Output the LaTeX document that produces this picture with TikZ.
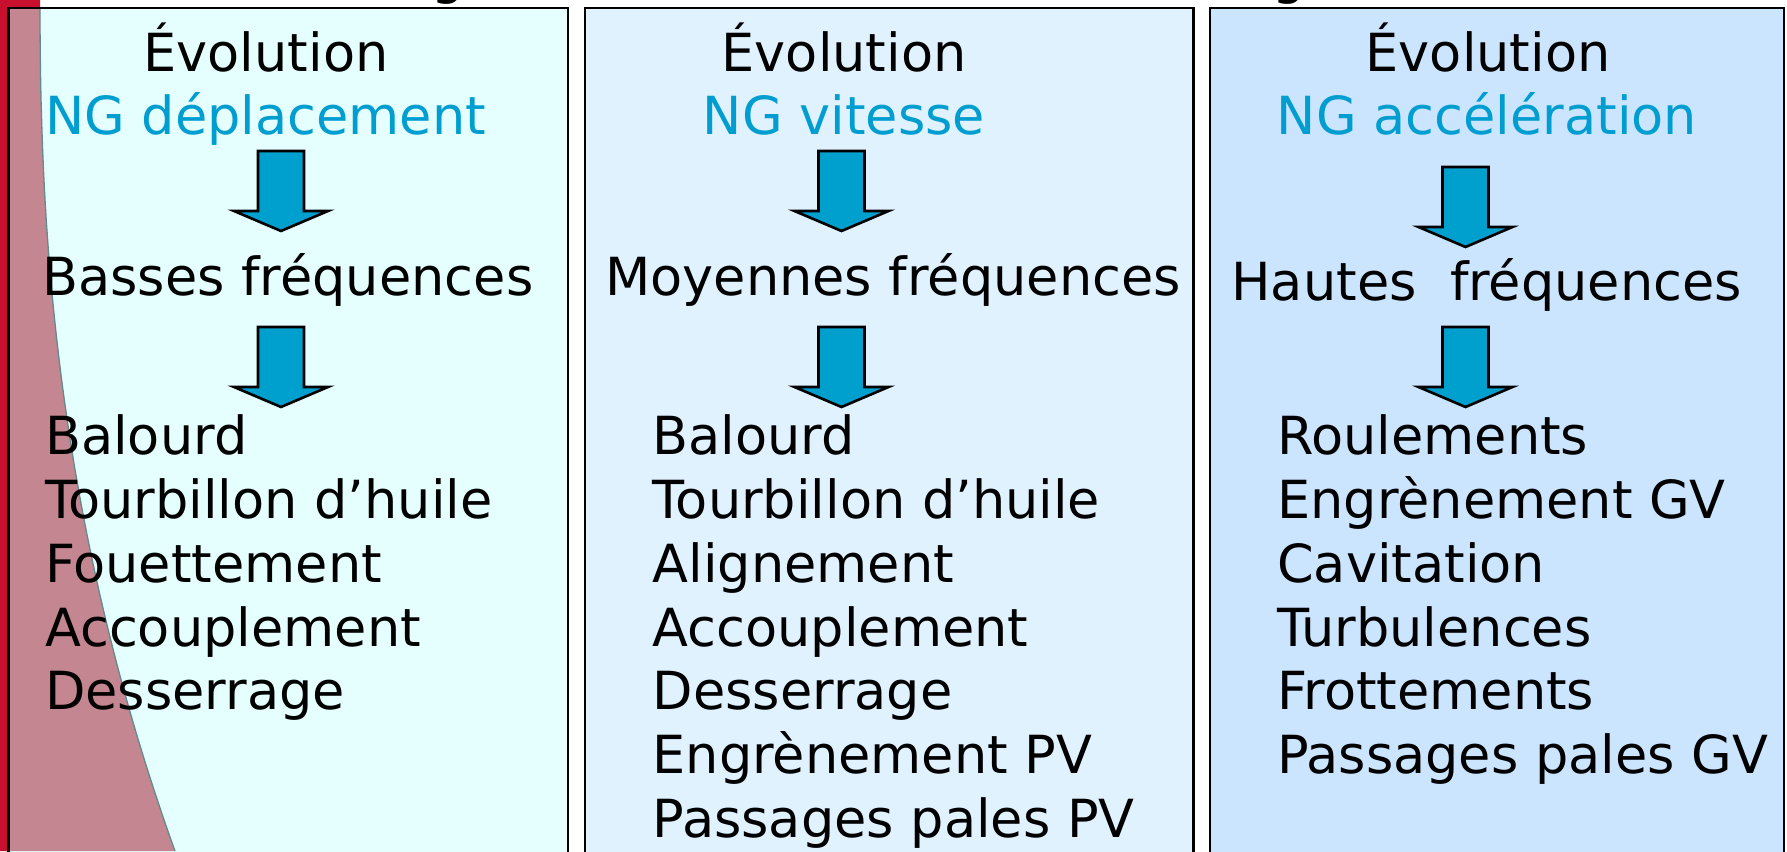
\documentclass[tikz,border=0pt]{standalone}
\usepackage{fontspec}
\setmainfont{DejaVu Sans}
\definecolor{bandA}{RGB}{229,255,255}
\definecolor{bandB}{RGB}{225,242,255}
\definecolor{bandC}{RGB}{204,229,255}
\definecolor{ngblue}{RGB}{0,158,208}
\definecolor{arrowblue}{RGB}{0,160,206}
\definecolor{crimson}{RGB}{200,16,46}
\definecolor{rosewash}{RGB}{196,134,144}
\definecolor{edgeline}{RGB}{95,140,140}
\begin{document}
\begin{tikzpicture}[x=1pt,y=-1pt,
  bigtext/.style={inner sep=0pt, font=\fontsize{52.5}{63.8}\selectfont},
  head/.style={bigtext, anchor=base},
  ng/.style={head, text=ngblue},
  item/.style={bigtext, anchor=base west},
  band/.style={draw=black, line width=2.8pt},
  arrowbody/.style={fill=arrowblue, draw=black, line width=2.6pt, line join=miter},
  downarrow/.pic={\draw[arrowbody] (-23,0) -- (23,0) -- (23,60) -- (47,60)
      -- (0,80) -- (-47,60) -- (-23,60) -- cycle;}
]
\useasboundingbox (0,0) rectangle (1787,851);
\begin{scope}
\clip (0,0) rectangle (1787,851);
\fill[white] (0,0) rectangle (1787,851);

% descenders of the line above, cut by the top edge
\node[head] (gA) at (448,-6) {g};
\node[head] (gB) at (1289,-6) {g};

% crimson wedge along the left edge
\fill[crimson] (0,0) -- plot[domain=0:851, samples=60, variable=\t] ({40+135*(\t/851)^2.27}, \t) -- (0,851) -- cycle;

% three bands
\fill[bandA] (8.5,8) rectangle (568,880);
\fill[bandB] (585,8) rectangle (1193.5,880);
\fill[bandC] (1210,8) rectangle (1784,880);

% wedge seen through the first band
\begin{scope}
\clip (8.5,8) rectangle (568,880);
\fill[rosewash] (0,0) -- plot[domain=0:851, samples=60, variable=\t] ({40+135*(\t/851)^2.27}, \t) -- (0,851) -- cycle;
\draw[edgeline, line width=1.3pt] plot[domain=0:851, samples=60, variable=\t] ({40+135*(\t/851)^2.27}, \t);
\end{scope}

\draw[band] (8.5,8) rectangle (568,880);
\draw[band] (585,8) rectangle (1193.5,880);
\draw[band] (1210,8) rectangle (1784,880);
\end{scope}

% column 1 : displacement
\node[head] (evA) at (266,71) {Évolution};
\node[ng] (ngA) at (265.5,134.5) {NG déplacement};
\node[head] (frA) at (287.8,295) {Basses fréquences};
\pic (arA1) at (281,151) {downarrow};
\pic (arA2) at (281,327) {downarrow};
\foreach \txt [count=\i] in {Balourd, Tourbillon d’huile, Fouettement, Accouplement, Desserrage}
  \node[item] (itA\i) at (45,{454.7+(\i-1)*63.8}) {\txt};

% column 2 : velocity
\node[head] (evB) at (844,71) {Évolution};
\node[ng] (ngB) at (844,134.5) {NG vitesse};
\node[head] (frB) at (893,295) {Moyennes fréquences};
\pic (arB1) at (841.5,151) {downarrow};
\pic (arB2) at (841.5,327) {downarrow};
\foreach \txt [count=\i] in {Balourd, Tourbillon d’huile, Alignement, Accouplement, Desserrage, Engrènement PV, Passages pales PV}
  \node[item] (itB\i) at (652.5,{454.7+(\i-1)*63.8}) {\txt};

% column 3 : acceleration
\node[head] (evC) at (1488,71) {Évolution};
\node[ng] (ngC) at (1487,134.5) {NG accélération};
\node[head] (frC) at (1486.7,300) {Hautes\ \ fréquences};
\pic (arC1) at (1465.5,167) {downarrow};
\pic (arC2) at (1465.5,327) {downarrow};
\foreach \txt [count=\i] in {Roulements, Engrènement GV, Cavitation, Turbulences, Frottements, Passages pales GV}
  \node[item] (itC\i) at (1277,{454.7+(\i-1)*63.8}) {\txt};
\end{tikzpicture}
\end{document}
